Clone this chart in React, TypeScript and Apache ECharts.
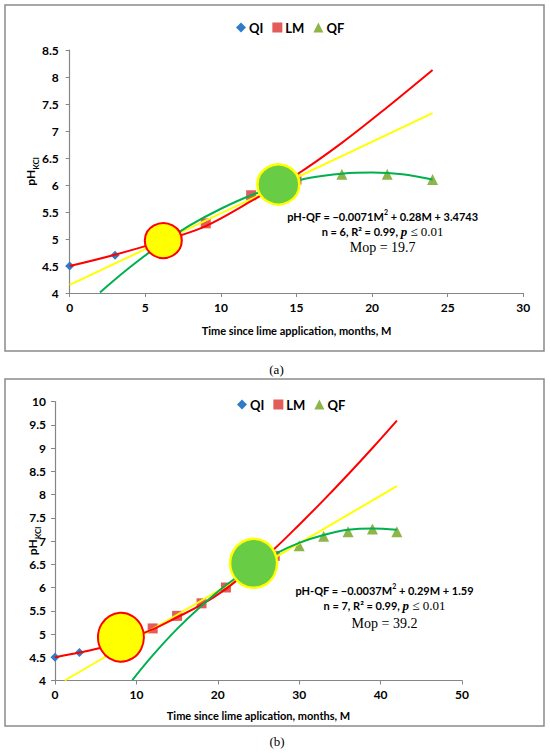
import React, { useEffect, useRef } from "react";
import * as echarts from "echarts";

// ---------- panel (a) ----------
const qiA = [[0, 4.5], [3, 4.7]];
const lmA = [[9, 5.29], [12, 5.81], [15, 6.1]];
const qfA = [[18, 6.2], [21, 6.2], [24, 6.1]];
const redA = [[0, 4.5], [3, 4.71], [6.2, 4.97], [9, 5.24], [12, 5.7], [15, 6.19], [18, 6.78], [21, 7.44], [24, 8.13]];
const yellowA = [[0, 4.15], [24, 7.33]];
const greenA = [[2, 4.01], [4, 4.48], [6, 4.9], [8, 5.26], [10, 5.56], [12, 5.81], [14, 6.0], [16, 6.14], [18, 6.21], [20, 6.23], [22, 6.2], [24, 6.1]];
const mopYellowA = [[6.19, 4.97]];
const mopGreenA = [[13.8, 6.01]];

// ---------- panel (b) ----------
const qiB = [[0, 4.5], [3, 4.6]];
const lmB = [[12, 5.12], [15, 5.39], [18, 5.66], [21, 6.0], [27, 6.68]];
const qfB = [[30, 6.9], [33, 7.1], [36, 7.2], [39, 7.26], [42, 7.2]];
const redB = [[0, 4.5], [3, 4.6], [6, 4.72], [9, 4.91], [12, 5.1], [15, 5.36], [18, 5.63], [21, 5.97], [24, 6.4], [27, 6.84], [30, 7.35], [33, 7.88], [36, 8.43], [39, 9.0], [42, 9.59]];
const yellowB = [[1.2, 4.0], [42, 8.18]];
const greenB = [[9.5, 4.01], [12, 4.54], [15, 5.11], [18, 5.61], [21, 6.05], [24, 6.42], [27, 6.72], [30, 6.96], [33, 7.13], [36, 7.24], [39, 7.27], [42, 7.24]];
const mopYellowB = [[8.1, 4.93]];
const mopGreenB = [[24.4, 6.52]];

const legendNames = ["QI", "LM", "QF"];
const xTitleA = "Time since lime application, months, M";
const xTitleB = "Time since lime aplication, months, M";
const eqA = ["pH-QF = \u22120.0071M", " + 0.28M + 3.4743", "n = 6, R\u00b2 = 0.99, ", "Mop = 19.7"];
const eqB = ["pH-QF = \u22120.0037M", " + 0.29M + 1.59", "n = 7, R\u00b2 = 0.99, ", "Mop = 39.2"];

const SANS = "Lato";
const SERIF = "Liberation Serif";
const AXIS_GRAY = "#868686";

function xAxis(gridIndex: number, max: number, interval: number, name: string, nameGap: number) {
  return {
    type: "value",
    gridIndex,
    min: 0,
    max,
    interval,
    name,
    nameLocation: "middle",
    nameGap,
    nameMoveOverlap: false,
    nameTextStyle: { fontFamily: SANS, fontWeight: "bold", fontSize: 11, color: "#000" },
    axisLine: { show: true, onZero: false, lineStyle: { color: AXIS_GRAY, width: 1.2 } },
    axisTick: { show: true, length: 4, lineStyle: { color: AXIS_GRAY } },
    axisLabel: { fontFamily: SANS, fontWeight: "bold", fontSize: 12, color: "#000", margin: 8 },
    splitLine: { show: false },
  };
}

function yAxis(gridIndex: number, min: number, max: number, nameGap: number, margin: number) {
  return {
    type: "value",
    gridIndex,
    min,
    max,
    interval: 0.5,
    name: "{a|pH}{b|KCl}",
    nameLocation: "middle",
    nameRotate: 90,
    nameGap,
    nameMoveOverlap: false,
    nameTextStyle: {
      rich: {
        a: { fontFamily: SANS, fontWeight: "bold", fontSize: 12, color: "#000", lineHeight: 14, verticalAlign: "top" },
        b: { fontFamily: SANS, fontWeight: "bold", fontSize: 8, color: "#000", lineHeight: 8, padding: [7, 0, 0, 0], verticalAlign: "top" },
      },
    },
    axisLine: { show: true, onZero: false, lineStyle: { color: AXIS_GRAY, width: 1.2 } },
    axisTick: { show: true, length: 4, lineStyle: { color: AXIS_GRAY } },
    axisLabel: { fontFamily: SANS, fontWeight: "bold", fontSize: 12, color: "#000", margin },
    splitLine: { show: false },
  };
}

function panelSeries(idx: number, qi: number[][], lm: number[][], qf: number[][], red: number[][], yellow: number[][], green: number[][], mY: number[][], mG: number[][], sizeY: number[], sizeG: number[]) {
  const ax = { xAxisIndex: idx, yAxisIndex: idx };
  const emph = { disabled: true };
  return [
    { name: "QI", type: "scatter", ...ax, data: qi, symbol: "diamond", symbolSize: 9, itemStyle: { color: "#2F7BC8", opacity: 1 }, emphasis: emph, z: 2 },
    { name: "LM", type: "scatter", ...ax, data: lm, symbol: "rect", symbolSize: 10, itemStyle: { color: "#DF4E4C", opacity: 0.92 }, emphasis: emph, z: 2 },
    { name: "QF", type: "scatter", ...ax, data: qf, symbol: "triangle", symbolSize: 11, itemStyle: { color: "#8DB54A", opacity: 1 }, emphasis: emph, z: 2 },
    { name: "yellowTrend" + idx, type: "line", ...ax, data: yellow, showSymbol: false, lineStyle: { color: "#FFFF00", width: 2 }, emphasis: emph, z: 3 },
    { name: "redTrend" + idx, type: "line", ...ax, data: red, showSymbol: false, smooth: 0.35, lineStyle: { color: "#FF0000", width: 2 }, emphasis: emph, z: 3 },
    { name: "greenTrend" + idx, type: "line", ...ax, data: green, showSymbol: false, smooth: 0.35, lineStyle: { color: "#00B050", width: 2 }, emphasis: emph, z: 3 },
    { name: "mopY" + idx, type: "scatter", ...ax, data: mY, symbol: "circle", symbolSize: sizeY, itemStyle: { color: "#FFFF00", borderColor: "#FF0000", borderWidth: 2, opacity: 1 }, emphasis: emph, z: 5 },
    { name: "mopG" + idx, type: "scatter", ...ax, data: mG, symbol: "circle", symbolSize: sizeG, itemStyle: { color: "#68CC44", borderColor: "#FFFF00", borderWidth: 2.5, opacity: 1 }, emphasis: emph, z: 5 },
  ];
}

function legend(left: number, top: number) {
  return {
    data: legendNames,
    left,
    top,
    itemWidth: 10,
    itemHeight: 10,
    itemGap: 9,
    selectedMode: false,
    textStyle: { fontFamily: SANS, fontWeight: "bold", fontSize: 13, color: "#000", padding: [0, 0, 0, -2] },
  };
}

function eqTexts(cx: number, y1: number, y2: number, y3: number, eq: string[]) {
  return [
    {
      type: "text", x: cx, y: y1, z: 10,
      style: {
        text: `{a|${eq[0]}}{s|2}{a|${eq[1]}}`,
        align: "center", verticalAlign: "middle",
        rich: {
          a: { fontFamily: SANS, fontWeight: "bold", fontSize: 11, fill: "#000", lineHeight: 14, verticalAlign: "bottom" },
          s: { fontFamily: SANS, fontWeight: "bold", fontSize: 7, fill: "#000", lineHeight: 14, verticalAlign: "top" },
        },
      },
    },
    {
      type: "text", x: cx, y: y2, z: 10,
      style: {
        text: `{a|${eq[2]}}{p|p}{c| \u2264 0.01}`,
        align: "center", verticalAlign: "middle",
        rich: {
          a: { fontFamily: SANS, fontWeight: "bold", fontSize: 11, fill: "#000", lineHeight: 15 },
          p: { fontFamily: SERIF, fontWeight: "bold", fontStyle: "italic", fontSize: 13, fill: "#000", lineHeight: 15 },
          c: { fontFamily: SERIF, fontSize: 13, fill: "#000", lineHeight: 15 },
        },
      },
    },
    {
      type: "text", x: cx, y: y3, z: 10,
      style: { text: eq[3], align: "center", verticalAlign: "middle", font: `14px "${SERIF}"`, fill: "#000" },
    },
  ];
}

function buildOption() {
  return {
    animation: false,
    backgroundColor: "#fff",
    grid: [
      { left: 69.7, top: 50, width: 453.6, height: 243 },
      { left: 55, top: 401.5, width: 407, height: 279 },
    ],
    legend: [legend(231, 16), legend(232, 393)],
    xAxis: [xAxis(0, 30, 5, xTitleA, 32), xAxis(1, 50, 10, xTitleB, 29)],
    yAxis: [yAxis(0, 4, 8.5, 31, 11), yAxis(1, 4, 10, 14.5, 9)],
    series: [
      ...panelSeries(0, qiA, lmA, qfA, redA, yellowA, greenA, mopYellowA, mopGreenA, [37, 35], [42, 40]),
      ...panelSeries(1, qiB, lmB, qfB, redB, yellowB, greenB, mopYellowB, mopGreenB, [46, 49], [47, 49]),
    ],
    graphic: [
      { type: "rect", shape: { x: 5, y: 5, width: 539, height: 346 }, style: { fill: "none", stroke: "#8A8A8A", lineWidth: 1.5 }, z: 0 },
      { type: "rect", shape: { x: 5, y: 379, width: 539, height: 347 }, style: { fill: "none", stroke: "#8A8A8A", lineWidth: 1.5 }, z: 0 },
      ...eqTexts(382.6, 215, 231, 247.5, eqA),
      ...eqTexts(384.5, 589, 605.5, 623.3, eqB),
      { type: "text", x: 276.5, y: 369.5, style: { text: "(a)", align: "center", verticalAlign: "middle", font: `13px "${SERIF}"`, fill: "#000" } },
      { type: "text", x: 277, y: 741.5, style: { text: "(b)", align: "center", verticalAlign: "middle", font: `13px "${SERIF}"`, fill: "#000" } },
    ],
  };
}

export default function App() {
  const ref = useRef<HTMLDivElement>(null);
  useEffect(() => {
    if (!ref.current) return;
    const chart = echarts.init(ref.current, null, { renderer: "svg" });
    chart.setOption(buildOption() as any);
    return () => chart.dispose();
  }, []);
  return (
    <div
      ref={ref}
      style={{ position: "absolute", left: 0, top: 0, width: 550, height: 753, background: "#fff" }}
    />
  );
}
